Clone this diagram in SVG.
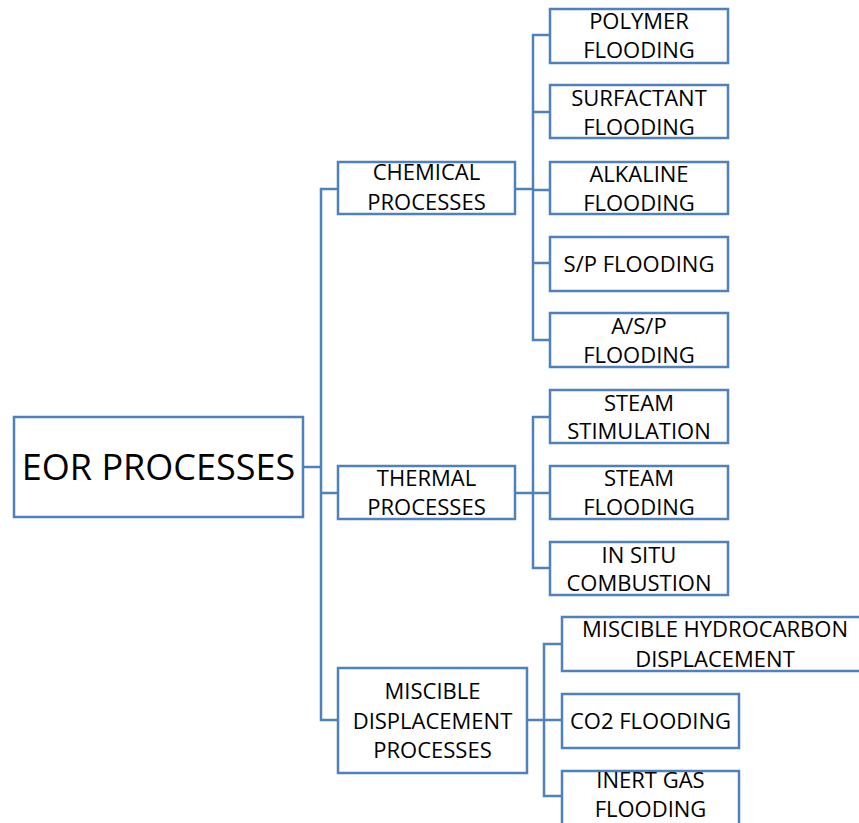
<svg xmlns="http://www.w3.org/2000/svg" width="859" height="823" viewBox="0 0 859 823">
  <style>
    .box { fill: #ffffff; stroke: #4f81bd; stroke-width: 2.5; }
    .wire { fill: none; stroke: #4f81bd; stroke-width: 2.5; }
    text { font-family: "Open Sans", "Noto Sans", sans-serif; font-size: 22px; fill: #000000; text-anchor: middle; }
    .big { font-size: 36px; }
  </style>
  <rect width="859" height="823" fill="#ffffff"/>

  <g id="connectors">
    <path class="wire" d="M303 467 H321"/>
    <path class="wire" d="M338 189 H321 V720 H338 M321 493 H338"/>
    <path class="wire" d="M515 189 H533 M550 35 H533 V340 H550 M533 112 H550 M533 190 H550 M533 263 H550"/>
    <path class="wire" d="M515 493 H550 M550 417 H533 V568 H550"/>
    <path class="wire" d="M527 720 H562 M562 644 H544 V796 H562"/>
  </g>

  <g id="eor">
    <rect class="box" x="14" y="417" width="289" height="100"/>
    <text class="big" x="158.5" y="480">EOR PROCESSES</text>
  </g>

  <g id="chemical">
    <rect class="box" x="338" y="162" width="177" height="52"/>
    <text x="426.5" y="180">CHEMICAL</text>
    <text x="426.5" y="210">PROCESSES</text>
  </g>
  <g id="thermal">
    <rect class="box" x="338" y="466" width="177" height="53"/>
    <text x="426.5" y="486">THERMAL</text>
    <text x="426.5" y="515">PROCESSES</text>
  </g>
  <g id="miscible">
    <rect class="box" x="338" y="668" width="189" height="105"/>
    <text x="432.5" y="699">MISCIBLE</text>
    <text x="432.5" y="729">DISPLACEMENT</text>
    <text x="432.5" y="758">PROCESSES</text>
  </g>

  <g id="polymer">
    <rect class="box" x="550" y="9" width="178" height="54"/>
    <text x="639" y="29">POLYMER</text>
    <text x="639" y="58">FLOODING</text>
  </g>
  <g id="surfactant">
    <rect class="box" x="550" y="85" width="178" height="53"/>
    <text x="639" y="106">SURFACTANT</text>
    <text x="639" y="135">FLOODING</text>
  </g>
  <g id="alkaline">
    <rect class="box" x="550" y="162" width="178" height="52"/>
    <text x="639" y="182">ALKALINE</text>
    <text x="639" y="211">FLOODING</text>
  </g>
  <g id="sp">
    <rect class="box" x="550" y="237" width="178" height="54"/>
    <text x="639" y="272">S/P FLOODING</text>
  </g>
  <g id="asp">
    <rect class="box" x="550" y="313" width="178" height="54"/>
    <text x="639" y="334">A/S/P</text>
    <text x="639" y="363">FLOODING</text>
  </g>

  <g id="steam-stimulation">
    <rect class="box" x="550" y="390" width="178" height="53"/>
    <text x="639" y="411">STEAM</text>
    <text x="639" y="439">STIMULATION</text>
  </g>
  <g id="steam-flooding">
    <rect class="box" x="550" y="466" width="178" height="53"/>
    <text x="639" y="486">STEAM</text>
    <text x="639" y="515">FLOODING</text>
  </g>
  <g id="in-situ">
    <rect class="box" x="550" y="542" width="178" height="53"/>
    <text x="639" y="563">IN SITU</text>
    <text x="639" y="591">COMBUSTION</text>
  </g>

  <g id="hydrocarbon">
    <rect class="box" x="562" y="617" width="306" height="54"/>
    <text x="715" y="637">MISCIBLE HYDROCARBON</text>
    <text x="715" y="667">DISPLACEMENT</text>
  </g>
  <g id="co2">
    <rect class="box" x="562" y="694" width="177" height="54"/>
    <text x="650.5" y="729">CO2 FLOODING</text>
  </g>
  <g id="inert-gas">
    <rect class="box" x="562" y="771" width="177" height="60"/>
    <text x="650.5" y="788">INERT GAS</text>
    <text x="650.5" y="817">FLOODING</text>
  </g>
</svg>
